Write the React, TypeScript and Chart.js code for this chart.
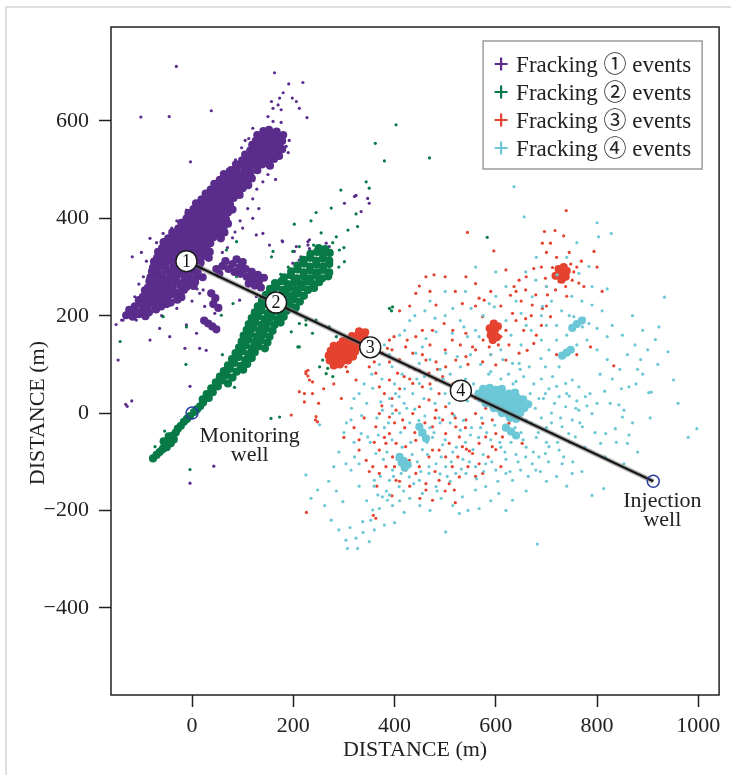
import React, { useEffect, useRef } from 'react';
import { Chart, registerables } from 'chart.js';

Chart.register(...registerables);

type Pt = [number, number];

// ---------- axes ----------
const xTicks = [0, 200, 400, 600, 800, 1000];
const yTicks = [-400, -200, 0, 200, 400, 600];
const xRange = [-160, 1041];
const yRange = [-579, 793];
const axisTitle = 'DISTANCE (m)';

// ---------- series ----------
const seriesLabels = ['Fracking \u2460 events', 'Fracking \u2461 events', 'Fracking \u2462 events', 'Fracking \u2463 events'];

// stage markers on the injection line
const stageLabels = ['1', '2', '3', '4'];
const stageX = [-11, 166, 352, 531];
const stageY = [312, 227, 135, 46];

// wells
const wellX = [0, 911];
const wellY = [0, -140];
const wellText = [['Monitoring', 'well'], ['Injection', 'well']];
const wellTextX = [114, 929];
const wellTextY = [[-60, -99], [-192, -232]];

// Fracking 1 (purple) - dense cloud
const frac1Dense: Pt[] = [
  [-130, 201], [-117, 198], [-105, 203], [-92, 199],
  [-124, 212], [-111, 208], [-97, 211], [-85, 207], [-71, 213],
  [-113, 219], [-100, 223], [-88, 218], [-76, 222], [-61, 219], [-50, 224],
  [-105, 232], [-91, 228], [-80, 233], [-67, 229], [-53, 231], [-42, 227], [-29, 233],
  [-97, 239], [-86, 243], [-72, 238], [-61, 242], [-47, 240], [-36, 244], [-21, 238],
  [-93, 252], [-78, 248], [-67, 253], [-53, 249], [-42, 251], [-27, 247], [-16, 253],
  [-87, 258], [-76, 262], [-63, 259], [-49, 261], [-38, 257], [-23, 262], [-11, 259], [3, 261],
  [-84, 271], [-72, 268], [-58, 272], [-47, 269], [-32, 271], [-20, 267], [-9, 272], [6, 269],
  [-82, 279], [-68, 282], [-57, 278], [-42, 281], [-31, 279], [-16, 282], [-5, 278], [10, 281], [21, 279],
  [-79, 291], [-67, 288], [-52, 292], [-41, 289], [-26, 291], [-15, 288], [-1, 292], [11, 289],
  [-77, 299], [-63, 302], [-52, 298], [-37, 301], [-26, 299], [-11, 302], [1, 298], [14, 301],
  [-75, 311], [-60, 308], [-49, 312], [-34, 309], [-23, 311], [-8, 308], [5, 312], [17, 309],
  [-69, 319], [-59, 322], [-44, 318], [-33, 321], [-18, 319], [-7, 322], [8, 318], [19, 321], [33, 319],
  [-67, 331], [-53, 328], [-42, 332], [-27, 329], [-16, 331], [-1, 328], [10, 332], [25, 329], [35, 331],
  [-59, 339], [-49, 342], [-34, 338], [-23, 341], [-8, 339], [3, 342], [18, 338], [29, 341],
  [-56, 351], [-41, 348], [-30, 352], [-15, 349], [-4, 351], [11, 348], [22, 352], [36, 349],
  [-47, 359], [-36, 362], [-21, 358], [-10, 361], [5, 359], [16, 362], [31, 358], [42, 361], [57, 359],
  [-39, 371], [-24, 368], [-13, 372], [2, 369], [13, 371], [28, 368], [39, 372], [54, 369], [64, 371],
  [-27, 379], [-16, 382], [-1, 378], [10, 381], [25, 379], [36, 382], [51, 378], [62, 381],
  [-21, 391], [-6, 388], [5, 392], [20, 389], [31, 391], [46, 388], [57, 392], [71, 389],
  [-11, 399], [0, 402], [15, 398], [26, 401], [41, 399], [52, 402], [67, 398],
  [-7, 411], [8, 408], [19, 412], [34, 409], [45, 411], [60, 408], [71, 412],
  [3, 419], [14, 422], [29, 418], [40, 421], [55, 419], [66, 422], [80, 418],
  [8, 431], [23, 428], [34, 432], [49, 429], [60, 431], [75, 428],
  [19, 439], [30, 442], [45, 438], [56, 441], [71, 439], [82, 442],
  [27, 451], [42, 448], [53, 452], [68, 449], [79, 451], [94, 448],
  [37, 459], [48, 462], [63, 458], [74, 461], [89, 459], [100, 462],
  [44, 471], [59, 468], [70, 472], [85, 469], [96, 471], [111, 468],
  [55, 479], [66, 482], [81, 478], [92, 481], [107, 479], [118, 482],
  [63, 491], [78, 488], [89, 492], [104, 489], [115, 491],
  [77, 499], [88, 502], [103, 498], [114, 501], [129, 499],
  [87, 511], [102, 508], [113, 512], [128, 509], [139, 511], [154, 508],
  [99, 519], [110, 522], [125, 518], [136, 521], [151, 519], [162, 522],
  [105, 531], [120, 528], [131, 532], [146, 529], [157, 531], [172, 528],
  [115, 539], [126, 542], [141, 538], [152, 541], [167, 539], [178, 542],
  [119, 551], [134, 548], [145, 552], [160, 549], [171, 551],
  [126, 559], [137, 562], [152, 558], [163, 561], [178, 559],
  [129, 571], [144, 568], [155, 572], [170, 569], [180, 571],
  [141, 579], [152, 582], [167, 578],
  [60, 302], [72, 296], [84, 290], [96, 286], [108, 280], [120, 276], [132, 270],
  [66, 312], [80, 306], [94, 300], [106, 296], [118, 290], [130, 284], [142, 278],
  [88, 316], [100, 310], [112, 266], [124, 262], [136, 258], [48, 296], [54, 286],
  [38, 246], [46, 236], [42, 224], [52, 216],
  [24, 190], [32, 184], [40, 178], [48, 172],
];
// Fracking 1 (purple) - isolated events
const frac1Sparse: Pt[] = [
  [-31, 712], [-45, 609], [38, 621], [-3, 516], [163, 699], [219, 679], [191, 676], [180, 658],
  [173, 647], [157, 640], [170, 633], [198, 647], [206, 640], [212, 626], [160, 626], [176, 623],
  [227, 607], [150, 609], [160, 599], [176, 597], [140, 578], [127, 575], [153, 582], [112, 564],
  [192, 560], [190, 535], [186, 548], [120, 585], [105, 560], [98, 545], [86, 520], [70, 500],
  [60, 480], [48, 462], [40, 450], [28, 440], [18, 432], [5, 431], [-11, 417], [-14, 404],
  [-30, 395], [-40, 380], [-57, 369], [-83, 359], [-70, 350], [-118, 321], [-100, 330], [-90, 312],
  [-96, 280], [-105, 265], [-113, 239], [-116, 198], [-139, 191], [-123, 208], [-150, 182], [-146, 109],
  [153, 345], [178, 354], [140, 369], [127, 366], [206, 342], [229, 352], [232, 338], [212, 314],
  [199, 308], [114, 294], [301, 431], [321, 445], [334, 414], [350, 431], [22, 253], [94, 232],
  [127, 239], [45, 205], [25, 219], [15, 246], [80, 360], [95, 395], [110, 420], [120, 440],
  [128, 460], [140, 475], [150, 490], [165, 480], [100, 380], [85, 372], [-4, 55], [-128, 14],
  [-119, 25], [-77, -95], [43, -109], [-4, -144], [-131, 18], [232, 356], [229, 345], [179, 352],
  [202, 332], [215, 321], [265, 349], [271, 342], [186, 239], [199, 253], [-101, 608], [-83, 150],
  [-44, 157], [-64, 174], [-116, 205], [-96, 201], [-110, 191], [-136, 191], [9, 164], [15, 133],
  [28, 129], [-11, 181], [-14, 133], [324, 447], [347, 441], [60, 330], [70, 340], [120, 400],
  [132, 420], [-60, 200], [-30, 215], [0, 230], [10, 255],
];

// Fracking 2 (green) - dense cloud
const frac2Dense: Pt[] = [
  [-77, -93], [-70, -86], [-64, -80], [-58, -74], [-54, -66], [-48, -60], [-44, -52], [-38, -46],
  [-32, -40], [-28, -32], [-22, -26], [-16, -18], [-10, -12], [-4, -6], [4, 2], [10, 8], [16, 14],
  [22, 22], [-50, -70], [-42, -62], [-56, -58], [-46, -48], [-36, -54],
  [21, 28], [33, 31],
  [29, 39], [41, 43],
  [38, 51], [51, 55],
  [47, 63], [59, 67], [71, 61],
  [55, 75], [68, 78], [80, 73],
  [63, 86], [75, 91], [88, 85], [101, 89],
  [71, 98], [83, 103], [96, 97], [109, 101],
  [79, 111], [92, 115], [105, 109], [118, 113],
  [86, 123], [99, 127], [111, 121], [124, 125],
  [93, 135], [106, 139], [118, 133], [131, 137], [144, 133],
  [98, 147], [111, 151], [123, 145], [136, 149], [149, 145],
  [102, 159], [115, 163], [127, 157], [140, 161], [153, 157],
  [108, 171], [121, 175], [133, 169], [146, 173], [159, 169],
  [112, 183], [125, 187], [137, 181], [150, 185], [163, 181], [175, 186],
  [118, 195], [131, 199], [143, 193], [156, 197], [169, 193], [181, 198],
  [124, 207], [137, 211], [149, 205], [162, 209], [175, 205], [187, 210],
  [130, 219], [143, 223], [155, 217], [168, 221], [181, 217], [193, 222], [205, 217],
  [138, 231], [151, 235], [163, 229], [176, 233], [189, 229], [201, 234], [213, 229],
  [146, 243], [159, 247], [171, 241], [184, 245], [197, 241], [209, 246], [221, 241],
  [154, 255], [167, 259], [179, 253], [192, 257], [205, 253], [217, 258], [229, 253], [241, 257],
  [164, 267], [177, 271], [189, 265], [202, 269], [215, 265], [227, 270], [239, 265], [251, 269],
  [182, 279], [195, 283], [207, 277], [220, 281], [233, 277], [245, 282], [257, 277], [269, 281],
  [196, 291], [209, 295], [221, 289], [234, 293], [247, 289], [259, 294], [271, 289],
  [208, 303], [221, 307], [233, 301], [246, 305], [259, 301], [271, 306],
  [220, 315], [233, 319], [245, 313], [258, 317], [271, 313],
  [234, 327], [247, 331], [259, 325], [272, 329],
  [250, 339], [263, 337],
];
// Fracking 2 (green) - isolated events
const frac2Sparse: Pt[] = [
  [403, 592], [362, 554], [380, 518], [344, 475], [350, 462], [294, 458], [324, 409], [308, 376],
  [327, 383], [245, 412], [275, 421], [202, 388], [285, 362], [278, 350], [291, 335], [301, 311],
  [212, 342], [199, 332], [160, 332], [157, 321], [88, 352], [68, 335], [78, 308], [61, 308],
  [88, 280], [104, 314], [81, 225], [48, 219], [58, 201], [-57, 198], [212, 184], [225, 181],
  [-142, 147], [-12, 100], [84, 53], [156, -11], [173, -8], [-4, -116], [212, 136], [196, 167],
  [225, 191], [84, 109], [60, 120], [-11, 177], [268, 92], [278, 75], [258, 109], [265, 81],
  [252, 95], [209, 136], [390, 215], [394, 210], [396, 218], [583, 361], [285, 157], [298, 150],
  [238, 164], [245, 191], [271, 177], [206, 208], [469, 524], [-54, -37], [-73, -69], [290, 300],
  [235, 395], [255, 370], [240, 345], [190, 300], [175, 285], [300, 340],
];

// Fracking 3 (red) - dense clusters
const frac3Dense: Pt[] = [
  [280, 98], [292, 100],
  [272, 108], [284, 110], [296, 106], [308, 108],
  [270, 118], [282, 120], [294, 116], [306, 118], [318, 116],
  [274, 128], [286, 130], [298, 126], [310, 128], [322, 126],
  [280, 138], [292, 140], [304, 136], [316, 138], [328, 136], [340, 138],
  [298, 148], [310, 150], [322, 146], [334, 148], [346, 146],
  [316, 158], [328, 160], [340, 156],
  [330, 168], [342, 166],
  [718, 282], [728, 290], [738, 280], [730, 274], [724, 296], [740, 292], [734, 300],
  [590, 160], [598, 170], [604, 178], [594, 150], [602, 156], [588, 174], [596, 184],
];
// Fracking 3 (red) - isolated events
const frac3Sparse: Pt[] = [
  [739, 416], [717, 375], [696, 373], [734, 364], [692, 349], [708, 349], [794, 332], [769, 312],
  [748, 306], [712, 299], [754, 290], [751, 273], [764, 267], [774, 260], [738, 260], [725, 270],
  [718, 253], [698, 277], [675, 297], [646, 273], [636, 260], [659, 253], [679, 243], [702, 243],
  [692, 215], [672, 222], [708, 198], [787, 136], [833, 97], [675, 143], [659, 194], [633, 205],
  [629, 242], [620, 294], [597, 188], [574, 198], [567, 236], [577, 232], [560, 266], [541, 280],
  [544, 371], [596, 333], [478, 284], [462, 280], [449, 261], [442, 246], [482, 222], [534, 225],
  [498, 184], [475, 170], [455, 170], [442, 157], [514, 150], [541, 164], [554, 136], [587, 136],
  [610, 157], [626, 140], [646, 123], [662, 129], [620, 109], [600, 99], [574, 105], [541, 116],
  [521, 109], [501, 95], [482, 105], [462, 109], [436, 123], [422, 136], [399, 157], [390, 150],
  [386, 133], [376, 123], [390, 105], [429, 95], [449, 88], [468, 82], [482, 68], [455, 54],
  [436, 61], [419, 75], [406, 82], [390, 68], [370, 54], [350, 95], [360, 105], [363, 82],
  [324, 68], [307, 85], [304, 95], [291, 99], [229, 88], [225, 81], [232, 68], [238, 64],
  [212, 44], [222, 40], [238, 40], [222, 23], [245, -7], [244, -14], [196, -4], [363, -28],
  [370, -1], [390, -8], [403, 6], [416, -14], [436, -1], [449, 13], [468, 27], [488, 40],
  [482, 6], [501, 13], [514, -1], [495, -14], [475, -28], [455, -42], [442, -56], [422, -69],
  [403, -62], [390, -42], [383, -62], [370, -76], [396, -90], [400, -110], [429, -97], [449, -110],
  [468, -90], [488, -76], [508, -62], [528, -49], [534, -69], [542, -74], [548, -78], [554, -83],
  [567, -62], [580, -49], [600, -42], [593, -14], [574, -21], [560, -1], [541, -14], [521, -28],
  [501, -42], [475, -76], [501, -90], [514, -110], [528, -131], [508, -145], [488, -138], [462, -145],
  [442, -124], [422, -117], [403, -138], [383, -110], [370, -124], [357, -110], [344, -97], [330, -76],
  [330, -55], [462, -158], [475, -179], [518, -158], [520, -184], [574, -124], [567, -104], [593, -69],
  [613, -49], [626, -21], [620, 6], [600, 13], [633, -42], [652, -62], [363, -216], [358, -210],
  [226, -204], [225, 85], [229, 76], [248, -18], [271, 109],
  [380, 40], [395, 130], [410, 110], [425, 150], [440, 90], [455, 120], [470, 140], [485, 90],
  [500, 130], [515, 170], [530, 140], [545, 100], [560, 130], [575, 150], [590, 120], [605, 140],
  [620, 170], [640, 190], [655, 170], [670, 200], [690, 180], [700, 220], [660, 280], [690, 300],
  [720, 320], [745, 330], [700, 330], [610, 220], [640, 250], [590, 250], [560, 220], [520, 250],
  [500, 280], [470, 250], [430, 220], [410, 210], [480, -10], [460, -20], [440, -40], [420, -30],
  [400, -20], [380, -50], [360, -60], [350, -120], [365, -150], [395, -170], [410, -140], [430, -150],
  [450, -175], [480, -120], [500, -160], [525, -90], [545, -110], [560, -130], [585, -90], [600, -75],
  [610, -110], [540, -30], [520, -10], [560, 30], [580, 10], [540, 40], [515, 60], [495, 75],
  [470, 60], [430, 70], [410, 50], [395, 30], [375, 15], [340, -10], [320, -30], [300, -50],
  [295, 30], [280, 60], [260, 50], [250, 20], [700, 260], [760, 300], [740, 240], [650, 230],
  [680, 160], [720, 120], [760, 120], [800, 300], [810, 250],
];

// Fracking 4 (cyan) - dense clusters
const frac4Dense: Pt[] = [
  [575, 50], [588, 52], [600, 48], [612, 50],
  [566, 40], [578, 42], [590, 38], [602, 40], [614, 38], [626, 40], [638, 42],
  [570, 30], [582, 28], [594, 32], [606, 30], [618, 28], [630, 30], [642, 32], [654, 28],
  [580, 20], [592, 18], [604, 22], [616, 20], [628, 18], [640, 20], [652, 22], [664, 18],
  [596, 10], [608, 8], [620, 12], [632, 10], [644, 8], [656, 10],
  [612, 0], [624, -2], [636, 2], [648, 0],
  [628, -10], [640, -12],
  [410, -90], [418, -98], [426, -106], [420, -112], [414, -102],
  [449, -28], [455, -40], [462, -52],
  [731, 118], [740, 124], [748, 130],
  [620, -30], [630, -38], [640, -46],
  [751, 175], [760, 183], [770, 190],
];
// Fracking 4 (cyan) - isolated events
const frac4Sparse: Pt[] = [
  [636, 465], [656, 403], [800, 391], [828, 369], [803, 362], [933, 238], [820, 255], [659, 290],
  [679, 273], [672, 239], [692, 219], [721, 284], [764, 287], [784, 301], [790, 222], [754, 198],
  [774, 195], [784, 184], [771, 177], [800, 174], [820, 157], [922, 177], [915, 151], [940, 126],
  [886, 110], [863, 54], [877, 60], [902, 42], [907, 43], [951, 68], [843, 17], [853, 6],
  [850, -8], [997, -32], [863, -45], [860, -62], [836, -32], [817, -42], [807, -62], [853, -104],
  [813, -155], [790, -169], [682, -269], [501, -244], [350, -264], [324, -257], [304, -261], [327, -278],
  [307, -278], [298, -182], [357, -199], [370, -196], [386, -179], [376, -172], [367, -168], [390, -168],
  [419, -204], [337, -223], [353, -220], [225, -127], [235, -175], [248, -158], [252, -24], [314, -14],
  [334, -42], [347, -49], [363, -83], [321, -90], [330, -104], [304, -104], [314, -117], [360, -138],
  [357, 51], [373, 23], [390, 30], [376, 6], [396, -1], [409, 34], [419, 20], [436, 40],
  [449, 61], [459, 75], [449, 102], [442, 123], [455, 136], [462, 153], [482, 167], [514, 164],
  [501, 123], [524, 116], [537, 177], [544, 157], [567, 157], [597, 218], [587, 225], [551, 215],
  [633, 102], [646, 102], [666, 95], [689, 112], [698, 95], [712, 75], [725, 95], [738, 61],
  [751, 68], [764, 54], [777, 34], [698, 40], [685, 30], [725, 34], [738, 13], [764, 6],
  [790, -1], [751, -14], [771, -28], [731, -28], [712, -42], [744, -42], [757, -49], [705, -69],
  [725, -76], [698, -83], [685, -90], [659, -90], [672, -104], [649, -117], [679, -117], [731, -104],
  [751, -124], [633, -138], [620, -124], [600, -117], [580, -104], [560, -110], [541, -124], [521, -124],
  [501, -110], [482, -104], [468, -124], [449, -138], [429, -131], [413, -124], [396, -117], [390, -138],
  [409, -151], [455, -165], [482, -151], [534, -172], [560, -158], [580, -151], [606, -165], [633, -179],
  [567, -196], [528, -206],
  [400, 60], [420, 50], [440, 8], [460, -6], [480, 20], [500, 40], [520, 60], [540, 70],
  [510, -20], [530, -35], [550, -45], [570, -30], [590, -55], [610, -70], [630, -60], [650, -40],
  [670, -20], [690, -10], [710, 0], [700, -30], [680, -50], [660, -70], [640, -85], [620, -95],
  [575, -85], [555, -75], [535, -95], [515, -80], [495, -65], [475, -50], [455, -75], [435, -85],
  [415, -70], [395, -55], [380, -30], [365, -10], [385, -80], [405, -95], [425, -110], [445, -100],
  [465, -85], [490, -125], [510, -140], [470, -30], [490, -20], [450, -45], [430, -20], [410, 0],
  [395, 15], [345, 20], [335, -5], [320, 30], [340, 60], [355, 80], [375, 70], [395, 95],
  [415, 80], [430, 95], [470, 110], [490, 90], [510, 80], [530, 95], [550, 120], [570, 100],
  [590, 85], [610, 70], [625, 80], [640, 65], [655, 75], [675, 60], [690, 70], [705, 50],
  [720, 55], [745, 35], [760, 25], [780, 15], [800, 20], [815, 45], [830, 70], [845, 90],
  [860, 120], [875, 140], [820, 110], [800, 130], [780, 150], [760, 140], [740, 160], [720, 150],
  [705, 130], [690, 150], [670, 170], [650, 140], [630, 160], [610, 130], [590, 120], [575, 200],
  [620, 190], [650, 205], [700, 180], [730, 210], [750, 240], [700, 260], [680, 320], [740, 320],
  [760, 350], [620, 260], [600, 290], [560, 300], [540, 250], [515, 215], [500, 200], [480, 195],
  [460, 210], [430, 190], [410, 160], [390, 120], [370, 100],
  [352, -60], [368, -45], [378, -95], [388, -20], [398, -130], [402, 40], [412, -40], [418, -160],
  [424, 10], [432, -60], [438, -145], [444, 70], [448, -15], [452, -120], [458, 30], [464, -60],
  [468, -110], [472, 50], [478, -40], [484, -160], [488, -10], [492, -90], [496, 70], [500, -55],
  [504, -130], [508, 20], [512, -100], [518, -5], [522, -70], [526, 40], [532, -115], [536, -15],
  [540, -60], [544, 25], [548, -100], [552, -30], [556, 60], [562, -135], [566, -50], [572, -10],
  [576, -120], [582, -40], [586, 80], [592, -100], [598, -25], [604, -140], [608, -60], [614, 110],
  [618, -80], [624, -5], [628, -120], [634, 60], [638, -30], [644, -100], [648, 90], [654, -55],
  [660, -15], [664, -130], [668, 40], [674, -80], [678, 10], [684, -40], [688, -120], [694, 30],
  [700, -60], [704, -100], [710, -20], [716, 20], [722, -60], [728, -10], [734, -90], [740, 40],
  [746, -60], [752, -100], [758, 10], [766, -20], [776, -70], [786, 40], [796, -40], [806, 80],
  [816, -90], [826, 20], [838, -60], [848, 50], [870, -20], [890, 80], [905, -10], [920, 100],
  [880, -80], [960, 20], [980, -50],
  [360, -150], [372, -130], [384, -160], [396, -190], [410, -180], [430, -175], [450, -190], [470, -200],
  [492, -175], [515, -190], [545, -200], [590, -180], [620, -200], [660, -160], [700, -140], [720, -130],
  [740, -150], [770, -120], [300, -40], [290, -80], [280, -110], [270, -140], [285, -160], [262, -190],
  [275, -220], [290, -240], [312, -235], [338, -245], [360, -240], [380, -230], [400, -225], [345, -180],
  [330, -150], [320, -60], [305, -20], [315, 10], [330, 40], [350, 120], [380, 140], [420, 170],
  [440, 200], [470, 230], [500, 250], [530, 190], [560, 170], [600, 240], [640, 230], [660, 180],
  [690, 200], [710, 230], [720, 180], [745, 200], [770, 230], [790, 260], [810, 210], [830, 180],
  [850, 160], [870, 200], [890, 170], [900, 130], [880, 90],
];

// ---------- styles ----------
const SERIF = "'Liberation Serif', 'Times New Roman', 'Noto Sans CJK JP', serif";
const seriesColors = ['#5a2d8c', '#087a48', '#e5432f', '#6cc8d6'];
const INK = '#222222';

const toPts = (a: Pt[]) => a.map(([x, y]) => ({ x, y }));
const fmt = (v: number) => (v < 0 ? '\u2212' + Math.abs(v) : String(v));

export default function App() {
  const ref = useRef<HTMLCanvasElement | null>(null);

  useEffect(() => {
    const canvas = ref.current;
    if (!canvas) return;

    const dense = [frac1Dense, frac2Dense, frac3Dense, frac4Dense];
    const sparse = [frac1Sparse, frac2Sparse, frac3Sparse, frac4Sparse];
    const lineData = [
      { x: stageX[0], y: stageY[0] },
      { x: wellX[1], y: wellY[1] },
    ];

    const datasets: any[] = [
      {
        label: 'well',
        data: wellX.map((x, i) => ({ x, y: wellY[i] })),
        pointRadius: 6,
        pointBorderWidth: 1.5,
        pointBorderColor: '#2b3d9c',
        pointBackgroundColor: 'rgba(0,0,0,0)',
        order: 0,
      },
      {
        label: 'stages',
        data: stageX.map((x, i) => ({ x, y: stageY[i] })),
        pointRadius: 10.5,
        pointBorderWidth: 1.4,
        pointBorderColor: '#1a1a1a',
        pointBackgroundColor: '#ffffff',
        order: 0,
      },
      {
        label: 'line',
        data: lineData,
        showLine: true,
        borderColor: '#161616',
        borderWidth: 2.2,
        pointRadius: 0,
        order: 1,
      },
      {
        label: 'line shadow',
        data: lineData,
        showLine: true,
        borderColor: 'rgba(120,120,120,0.55)',
        borderWidth: 5,
        pointRadius: 0,
        order: 2,
      },
    ];
    const orderBase = [9, 8, 6, 4];
    for (let i = 0; i < 4; i++) {
      datasets.push({
        label: seriesLabels[i],
        data: toPts(sparse[i]),
        pointRadius: 1.6,
        pointBorderWidth: 0,
        pointBackgroundColor: seriesColors[i],
        order: orderBase[i],
      });
      datasets.push({
        label: seriesLabels[i],
        data: toPts(dense[i]),
        pointRadius: 4.1,
        pointBorderWidth: 0,
        pointBackgroundColor: seriesColors[i],
        order: orderBase[i] - 1,
      });
    }

    const overlay = {
      id: 'overlay',
      beforeDraw(chart: any) {
        const ctx = chart.ctx;
        ctx.save();
        ctx.fillStyle = '#ffffff';
        ctx.fillRect(0, 0, chart.width, chart.height);
        ctx.fillStyle = '#dedede';
        ctx.fillRect(5, 6, chart.width - 5, 2);
        ctx.fillRect(5, 6, 2, chart.height - 6);
        ctx.restore();
      },
      afterDatasetsDraw(chart: any) {
        const ctx = chart.ctx;
        const a = chart.chartArea;
        const xs = chart.scales.x;
        const ys = chart.scales.y;
        ctx.save();

        // stage numbers
        ctx.fillStyle = '#111';
        ctx.textAlign = 'center';
        ctx.textBaseline = 'middle';
        ctx.font = `18px ${SERIF}`;
        stageX.forEach((sx, i) => {
          ctx.fillText(stageLabels[i], xs.getPixelForValue(sx), ys.getPixelForValue(stageY[i]) + 1);
        });

        // well labels
        ctx.font = `22px ${SERIF}`;
        ctx.textBaseline = 'alphabetic';
        ctx.fillStyle = INK;
        wellText.forEach((lines, i) => {
          lines.forEach((t, j) => {
            ctx.fillText(t, xs.getPixelForValue(wellTextX[i]), ys.getPixelForValue(wellTextY[i][j]));
          });
        });

        // plot frame
        ctx.strokeStyle = INK;
        ctx.lineWidth = 1.5;
        ctx.strokeRect(a.left, a.top, a.right - a.left, a.bottom - a.top);

        // y axis title
        ctx.save();
        ctx.translate(38, ys.getPixelForValue(0));
        ctx.rotate(-Math.PI / 2);
        ctx.textAlign = 'center';
        ctx.textBaseline = 'middle';
        ctx.font = `22px ${SERIF}`;
        ctx.fillText(axisTitle, 0, 0);
        ctx.restore();

        // legend
        const w = 219;
        const h = 128;
        const left = a.right - 17 - w;
        const top = a.top + 14;
        ctx.fillStyle = '#ffffff';
        ctx.fillRect(left, top, w, h);
        ctx.strokeStyle = '#9a9a9a';
        ctx.lineWidth = 1.5;
        ctx.strokeRect(left, top, w, h);
        ctx.font = `23px ${SERIF}`;
        ctx.textAlign = 'left';
        ctx.textBaseline = 'alphabetic';
        seriesLabels.forEach((lab, i) => {
          const cy = top + 23 + i * 28;
          const cx = left + 18;
          ctx.strokeStyle = seriesColors[i];
          ctx.lineWidth = 2.2;
          ctx.beginPath();
          ctx.moveTo(cx - 6.5, cy);
          ctx.lineTo(cx + 6.5, cy);
          ctx.moveTo(cx, cy - 6.5);
          ctx.lineTo(cx, cy + 6.5);
          ctx.stroke();
          ctx.fillStyle = INK;
          ctx.fillText(lab, left + 33, cy + 7.5);
        });
        ctx.restore();
      },
    };

    const chart = new Chart(canvas, {
      type: 'scatter',
      data: { datasets },
      options: {
        animation: false,
        responsive: false,
        devicePixelRatio: 1,
        events: [],
        layout: { padding: { left: 0, top: 27, right: 10, bottom: 0 } },
        plugins: { legend: { display: false }, tooltip: { enabled: false } },
        scales: {
          x: {
            type: 'linear',
            min: xRange[0],
            max: xRange[1],
            afterFit: (s: any) => {
              s.height = 80;
            },
            afterBuildTicks: (s: any) => {
              s.ticks = xTicks.map((v) => ({ value: v }));
            },
            ticks: {
              autoSkip: false,
              maxRotation: 0,
              padding: 6,
              color: INK,
              font: { family: SERIF, size: 22 },
              callback: (v: any) => fmt(Number(v)),
            },
            grid: { drawOnChartArea: false, drawTicks: true, tickLength: 12, tickWidth: 1.5, tickColor: INK },
            border: { display: false },
            title: {
              display: true,
              text: axisTitle,
              color: INK,
              font: { family: SERIF, size: 22 },
              padding: { top: 0, bottom: 12 },
            },
          },
          y: {
            type: 'linear',
            min: yRange[0],
            max: yRange[1],
            afterFit: (s: any) => {
              s.width = 111;
            },
            afterBuildTicks: (s: any) => {
              s.ticks = yTicks.map((v) => ({ value: v }));
            },
            ticks: {
              autoSkip: false,
              padding: 10,
              color: INK,
              font: { family: SERIF, size: 22 },
              callback: (v: any) => fmt(Number(v)),
            },
            grid: { drawOnChartArea: false, drawTicks: true, tickLength: 12, tickWidth: 1.5, tickColor: INK },
            border: { display: false },
            title: { display: false },
          },
        },
      } as any,
      plugins: [overlay],
    });

    return () => chart.destroy();
  }, []);

  return (
    <div style={{ position: 'fixed', left: 0, top: 0, width: 731, height: 775, background: '#fff' }}>
      <canvas ref={ref} width={731} height={775} style={{ display: 'block', width: 731, height: 775 }} />
    </div>
  );
}
